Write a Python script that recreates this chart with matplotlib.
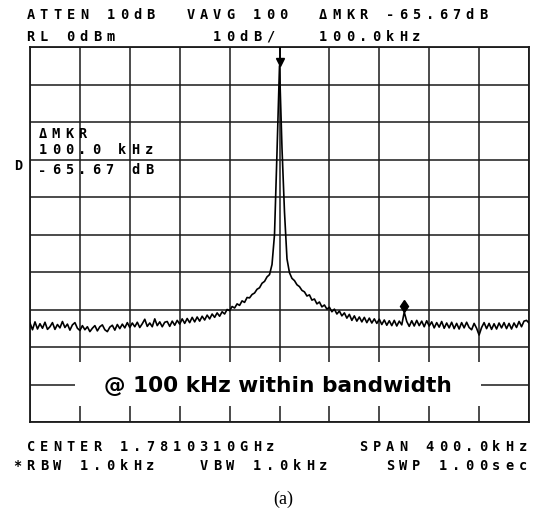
import numpy as np
import matplotlib
matplotlib.use("Agg")
import matplotlib.pyplot as plt
from matplotlib.patches import Rectangle
from matplotlib.transforms import offset_copy

# ---- analyzer settings ----
ref_level_dbm = 0
db_per_div = 10
span_khz = 400
center_ghz = 1.7810310
marker_offset_khz = 100.0
marker_delta_db = -65.67

# ---- averaged trace, 2 kHz per point, offsets from center (kHz) ----
freq_khz = np.arange(-200, 201, 2)
level_db = [
    # -200 .. -162
    -73.6, -75.4, -73.3, -75.2, -73.8, -75.0, -73.4, -75.3, -74.6, -73.5,
    -75.3, -74.0, -74.9, -73.2, -74.8, -73.9, -75.5, -74.1, -73.5, -75.0,
    # -160 .. -122
    -75.6, -74.3, -75.4, -74.6, -75.9, -75.0, -74.3, -75.7, -74.6, -74.1,
    -75.4, -75.9, -74.7, -74.2, -75.5, -74.0, -75.1, -73.9, -74.9, -73.5,
    # -120 .. -82
    -74.8, -73.6, -74.6, -73.4, -74.8, -73.8, -72.6, -74.5, -73.6, -74.6,
    -72.5, -74.3, -73.3, -74.6, -73.4, -73.2, -74.5, -73.1, -74.2, -72.9,
    # -80 .. -42
    -73.9, -72.5, -73.7, -72.4, -73.5, -72.1, -73.3, -72.0, -73.1, -71.8,
    -72.8, -71.5, -72.5, -71.2, -72.1, -70.9, -71.8, -70.6, -71.2, -70.0,
    # -40 .. -2
    -70.3, -69.2, -69.6, -68.5, -68.9, -67.7, -68.1, -66.8, -66.9, -66.0,
    -65.6, -64.6, -64.2, -63.0, -62.5, -61.3, -60.7, -58.0, -50.0, -28.0,
    # 0
    -5.0,
    # 2 .. 40
    -27.0, -44.0, -56.5, -60.2, -61.7, -62.3, -63.4, -63.9, -64.9, -65.3,
    -66.4, -66.1, -67.5, -67.2, -68.5, -68.0, -69.3, -68.8, -69.9, -69.4,
    # 42 .. 80
    -70.6, -69.9, -71.2, -70.4, -71.7, -70.9, -72.3, -71.3, -72.9, -71.7,
    -73.1, -72.0, -73.3, -72.1, -73.5, -72.3, -73.6, -72.5, -73.7, -72.6,
    # 82 .. 100
    -74.0, -72.8, -74.2, -73.0, -74.3, -72.9, -74.4, -73.1, -74.1, -70.67,
    # 102 .. 120
    -73.2, -74.5, -73.0, -74.4, -72.9, -74.3, -73.1, -74.6, -73.0, -74.4,
    # 122 .. 160
    -73.3, -74.9, -73.5, -74.7, -73.2, -75.0, -73.6, -74.9, -73.4, -75.1,
    -73.7, -75.2, -73.5, -74.9, -73.4, -74.8, -75.4, -73.7, -75.0, -76.8,
    # 162 .. 200
    -74.8, -73.5, -75.1, -73.7, -75.3, -73.8, -75.2, -73.6, -74.9, -73.5,
    -75.1, -73.7, -75.2, -73.6, -74.8, -73.2, -74.6, -73.1, -72.9, -73.6,
]

peak_idx = int(np.argmax(level_db))
peak_khz = freq_khz[peak_idx]
peak_db = level_db[peak_idx]
marker_db = peak_db + marker_delta_db

W, H = 535, 508
fig = plt.figure(figsize=(W / 100, H / 100), dpi=100)
fig.patch.set_facecolor("white")

# graticule: 10 x 10 divisions
ax = fig.add_axes([30 / W, (H - 422) / H, 499 / W, 375 / H])
ax.set_xlim(-span_khz / 2, span_khz / 2)
ax.set_ylim(ref_level_dbm - 10 * db_per_div, ref_level_dbm)
ax.set_xticks(np.arange(-span_khz / 2, span_khz / 2 + 1, span_khz / 10))
ax.set_yticks(np.arange(ref_level_dbm - 10 * db_per_div, ref_level_dbm + 1, db_per_div))
ax.tick_params(length=0, labelbottom=False, labelleft=False)
ax.grid(True, color="#1a1a1a", lw=1.1)
for sp in ax.spines.values():
    sp.set_linewidth(1.3)
    sp.set_color("#1a1a1a")

# trace
ax.plot(freq_khz, level_db, color="black", lw=1.2, zorder=3)

# reference marker on the peak
tri_tf = offset_copy(ax.transData, fig=fig, x=0, y=3.5, units="dots")
ax.plot([peak_khz], [peak_db], marker="v", ms=5.5, color="black",
        transform=tri_tf, zorder=4, clip_on=False)
ax.plot([peak_khz, peak_khz], [peak_db, ref_level_dbm], color="black", lw=1.3,
        transform=offset_copy(ax.transData, fig=fig, x=0, y=6, units="dots"), zorder=4)

# delta marker
dia_tf = offset_copy(ax.transData, fig=fig, x=0, y=6, units="dots")
ax.plot([marker_offset_khz], [marker_db], marker="d", ms=6.5, color="black",
        transform=dia_tf, zorder=4)

# annotation box
ax.add_patch(Rectangle((0.090, 0.043), 0.814, 0.117, transform=ax.transAxes,
                       facecolor="white", edgecolor="none", zorder=2.2))
ax.text(0.496, 0.079, "@ 100 kHz within bandwidth", transform=ax.transAxes,
        ha="center", va="baseline", family="DejaVu Sans", weight="bold",
        size=15.6, zorder=5)

# analyzer annotation rows (fixed character cells)
MONO = dict(family="DejaVu Sans Mono", size=9.8, weight="bold", color="black")
PITCH = 13.3


def put_row(x0, y_base, s):
    for i, ch in enumerate(s):
        if ch != " ":
            fig.text((x0 + i * PITCH) / W, 1 - y_base / H, ch,
                     ha="center", va="baseline", **MONO)


put_row(30.7, 18.8, f"ATTEN 10dB  VAVG 100  \u0394MKR {marker_delta_db:.2f}dB")
put_row(30.7, 41.0, f"RL {ref_level_dbm}dBm       10dB/   {marker_offset_khz:.1f}kHz")
put_row(30.7, 450.7, f"CENTER {center_ghz:.7f}GHz      SPAN {span_khz:.1f}kHz")
put_row(30.7 - PITCH, 470.0, "*RBW 1.0kHz   VBW 1.0kHz    SWP 1.00sec")

put_row(42.6, 137.5, "\u0394MKR")
put_row(42.6, 154.0, f"{marker_offset_khz:.1f} kHz")
put_row(42.6, 174.5, f"{marker_delta_db:.2f} dB")
put_row(17.8, 169.5, "D")

fig.text(283 / W, 1 - 504 / H, "(a)", ha="center", va="baseline",
         family="Liberation Serif", size=13)

fig.savefig("out.png", dpi=100)
